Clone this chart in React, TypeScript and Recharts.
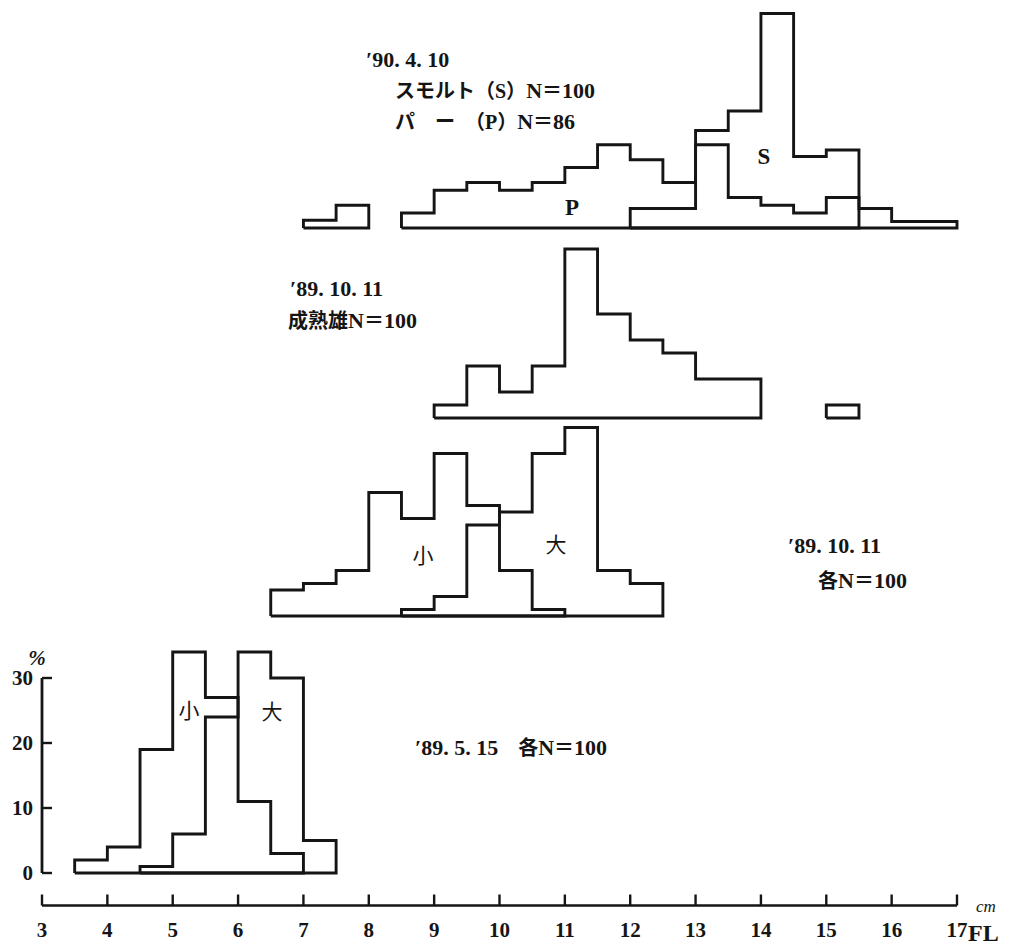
import { ComposedChart, Line, XAxis, YAxis, ReferenceLine } from "recharts";

// bin width of every histogram, cm
const binWidth = 0.5;

// '89.5.15  各N=100  (% per 0.5cm bin, from first bin start)
const may89SmallStart = 3.5;
const may89Small = [2, 4, 19, 34, 27, 11, 3];
const may89LargeStart = 4.5;
const may89Large = [1, 6, 24, 34, 30, 5];

// '89.10.11  各N=100  小 / 大
const oct89SmallStart = 6.5;
const oct89Small = [4, 5, 7, 19, 15, 25, 17, 7, 1];
const oct89LargeStart = 8.5;
const oct89Large = [1, 3, 14, 16, 25, 29, 7, 5];

// '89.10.11  成熟雄N=100
const matureStart = 9;
const mature = [2, 8, 4, 8, 26, 16, 12, 10, 6, 6];
const matureTailStart = 15;
const matureTail = [2];

// '90.4.10  パー(P) N=86, スモルト(S) N=100
const parrHeadStart = 7;
const parrHead = [1.2, 3.5];
const parrStart = 8.5;
const parr = [2.3, 5.8, 7.0, 5.8, 7.0, 9.3, 12.8, 10.5, 7.0, 12.8, 4.7, 3.5, 2.3, 4.7];
const smoltStart = 12;
const smolt = [3, 3, 15, 18, 33, 11, 12, 3, 1, 1];

const xTicks = [3, 4, 5, 6, 7, 8, 9, 10, 11, 12, 13, 14, 15, 16, 17];
const yTicks = [0, 10, 20, 30];

const INK = "#151515";
const PX_PER_PCT = 6.5;
const LATIN = "'Liberation Serif', 'Noto Sans CJK JP', serif";

// closed step outline of one histogram: up at start, along the tops, down at end, back along the base
const outline = (start: number, heights: number[]) => {
  const pts = [{ x: start, y: 0 }];
  heights.forEach((h, i) => pts.push({ x: start + i * binWidth, y: h }));
  const end = start + heights.length * binWidth;
  pts.push({ x: end, y: 0 }, { x: start, y: 0 });
  return pts;
};

const steps = (shapes: { x: number; y: number }[][]) =>
  shapes.map((d, i) => (
    <Line
      key={i}
      data={d}
      dataKey="y"
      type="stepAfter"
      stroke={INK}
      strokeWidth={2.9}
      dot={false}
      activeDot={false}
      isAnimationActive={false}
    />
  ));

const Panel = ({ baseline, yMax, shapes }: { baseline: number; yMax: number; shapes: { x: number; y: number }[][] }) => {
  const plotH = yMax * PX_PER_PCT;
  return (
    <div style={{ position: "absolute", left: 0, top: baseline - plotH - 6 }}>
      <ComposedChart width={1020} height={plotH + 12} margin={{ top: 6, right: 63, bottom: 6, left: 42 }}>
        <XAxis type="number" dataKey="x" domain={[3, 17]} hide />
        <YAxis type="number" domain={[0, yMax]} hide />
        {steps(shapes)}
      </ComposedChart>
    </div>
  );
};

const XTick = (props: any) => {
  const { x, y, payload } = props;
  return (
    <g>
      <line x1={x} x2={x} y1={y} y2={y - 11} stroke={INK} strokeWidth={2.4} />
      <text x={x} y={y + 31} textAnchor="middle" fontFamily={LATIN} fontWeight="bold" fontSize={21} fill={INK}>
        {payload.value}
      </text>
    </g>
  );
};

const YTick = (props: any) => {
  const { x, y, payload } = props;
  return (
    <g>
      <line x1={x} x2={x + 10} y1={y} y2={y} stroke={INK} strokeWidth={2.4} />
      <text x={x - 9} y={y + 7} textAnchor="end" fontFamily={LATIN} fontWeight="bold" fontSize={21} fill={INK}>
        {payload.value}
      </text>
    </g>
  );
};

const Note = ({ x, y, size = 20, center = false, style = {}, children }: any) => (
  <div
    style={{
      position: "absolute",
      left: x,
      top: y,
      transform: center ? "translate(-50%, -50%)" : "translateY(-50%)",
      fontFamily: LATIN,
      fontSize: size,
      fontWeight: "bold",
      lineHeight: 1,
      whiteSpace: "nowrap",
      color: INK,
      ...style,
    }}
  >
    {children}
  </div>
);

// latin runs set a little larger than the kana/kanji, as in the print
const L = ({ children }: any) => <span style={{ fontSize: 22 }}>{children}</span>;

const App = () => {
  return (
    <div style={{ position: "absolute", left: 0, top: 0, width: 1020, height: 949, background: "#fff", overflow: "hidden" }}>
      <Panel baseline={228} yMax={34} shapes={[outline(parrHeadStart, parrHead), outline(parrStart, parr), outline(smoltStart, smolt)]} />
      <Panel baseline={418} yMax={28} shapes={[outline(matureStart, mature), outline(matureTailStart, matureTail)]} />
      <Panel baseline={616} yMax={30} shapes={[outline(oct89SmallStart, oct89Small), outline(oct89LargeStart, oct89Large)]} />

      <div style={{ position: "absolute", left: 0, top: 600 }}>
        <ComposedChart width={1020} height={349} margin={{ top: 45.5, right: 63, bottom: 0, left: 0 }}>
          <XAxis
            type="number"
            dataKey="x"
            domain={[3, 17]}
            ticks={xTicks}
            interval={0}
            height={43.5}
            tickSize={0}
            tickMargin={0}
            tickLine={false}
            axisLine={{ stroke: INK, strokeWidth: 2.4 }}
            tick={<XTick />}
          />
          <YAxis
            type="number"
            domain={[-5, 35]}
            ticks={yTicks}
            interval={0}
            width={42}
            tickSize={0}
            tickMargin={0}
            tickLine={false}
            axisLine={false}
            tick={<YTick />}
          />
          <ReferenceLine segment={[{ x: 3, y: 0 }, { x: 3, y: 30 }]} stroke={INK} strokeWidth={2.8} />
          {steps([outline(may89SmallStart, may89Small), outline(may89LargeStart, may89Large)])}
        </ComposedChart>
      </div>

      <Note x={366} y={60}><L>′90. 4. 10</L></Note>
      <Note x={395} y={91}>スモルト（S）<L>N</L>＝<L>100</L></Note>
      <Note x={395} y={122}>パ　ー　（P）<L>N</L>＝<L>86</L></Note>
      <Note x={764} y={156} size={23} center>S</Note>
      <Note x={572} y={207} size={23} center>P</Note>

      <Note x={290} y={289}><L>′89. 10. 11</L></Note>
      <Note x={288} y={321}>成熟雄<L>N</L>＝<L>100</L></Note>

      <Note x={423} y={556} size={21} center style={{ fontWeight: "normal" }}>小</Note>
      <Note x={556} y={545} size={21} center style={{ fontWeight: "normal" }}>大</Note>
      <Note x={788} y={546}><L>′89. 10. 11</L></Note>
      <Note x={818} y={581}>各<L>N</L>＝<L>100</L></Note>

      <Note x={189} y={711} size={21} center style={{ fontWeight: "normal" }}>小</Note>
      <Note x={272} y={712} size={21} center style={{ fontWeight: "normal" }}>大</Note>
      <Note x={415} y={748}><L>′89. 5. 15</L>　各<L>N</L>＝<L>100</L></Note>

      <Note x={37} y={658} size={21} center style={{ fontStyle: "italic" }}>%</Note>
      <Note x={976} y={906} size={17} style={{ fontStyle: "italic", fontWeight: "normal" }}>cm</Note>
      <Note x={968} y={933} size={24}>FL</Note>
    </div>
  );
};

export default App;
